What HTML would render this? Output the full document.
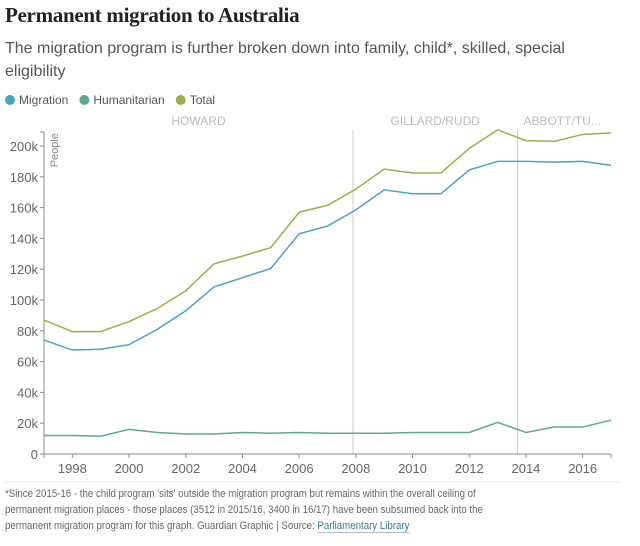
<!DOCTYPE html>
<html><head><meta charset="utf-8"><style>
body{margin:0;background:#fff;width:640px;height:546px;overflow:hidden;font-family:"Liberation Sans",sans-serif}
h1{position:absolute;left:5px;top:3px;margin:0;font:bold 21px "Liberation Serif",serif;color:#222;letter-spacing:-0.3px}
.sub{position:absolute;left:5px;top:37px;width:640px;font-size:16px;line-height:23px;color:#555;white-space:nowrap}
.foot{position:absolute;left:5px;top:486px;width:700px;font-size:11px;line-height:16px;color:#666;white-space:nowrap;transform:scaleX(0.88);transform-origin:0 0}
.foot a{color:#3a7a95;text-decoration:none;border-bottom:1px solid #bbb}
</style></head><body>
<h1>Permanent migration to Australia</h1>
<div class="sub">The migration program is further broken down into family, child*, skilled, special<br>eligibility</div>
<svg id="c" width="640" height="546" style="position:absolute;left:0;top:0"></svg>
<div class="foot">*Since 2015-16 - the child program 'sits' outside the migration program but remains within the overall ceiling of<br>permanent migration places - those places (3512 in 2015/16, 3400 in 16/17) have been subsumed back into the<br>permanent migration program for this graph. Guardian Graphic | Source: <a>Parliamentary Library</a></div>
<script>
const years=[1997,1998,1999,2000,2001,2002,2003,2004,2005,2006,2007,2008,2009,2010,2011,2012,2013,2014,2015,2016,2017];
const migration=[74,67.5,68,71,81,93,108.5,114.5,120.5,143,148,158.5,171.5,169,169,184.5,190,190,189.5,190,187.5];
const humanitarian=[12,12,11.5,16,14,13,13,14,13.5,14,13.5,13.5,13.5,14,14,14,20.5,14,17.5,17.5,22];
const total=[87,79.5,79.5,86,94.5,106,123.5,128.5,134,157,161.5,172,185,182.5,182.5,198.5,210.5,203.5,203,207.5,208.5];
const yTicks=[0,20,40,60,80,100,120,140,160,180,200];
const xTicks=[1998,2000,2002,2004,2006,2008,2010,2012,2014,2016];
const periods=[{name:"HOWARD",start:1997,end:2007.9},{name:"GILLARD/RUDD",start:2007.9,end:2013.7},{name:"ABBOTT/TU...",start:2013.7,end:2017}];
const X=v=>44+(v-1997)*(611-44)/20;
const Y=v=>454-v*(454-146)/200;
const svg=document.getElementById('c');const NS='http://www.w3.org/2000/svg';
function mk(t,a,p){const e=document.createElementNS(NS,t);for(const k in a)e.setAttribute(k,a[k]);(p||svg).appendChild(e);return e;}
const leg=[["Migration","#4aa3c1"],["Humanitarian","#5fa896"],["Total","#a3ad47"]];
let lx=10;
leg.forEach(([n,c])=>{const g=mk('g',{});


mk('circle',{cx:lx,cy:100,r:5,fill:c},g);
const t=mk('text',{x:lx+9,y:104,'font-size':12,fill:'#555'},g);t.textContent=n;
lx+=t.getComputedTextLength()+25;});
periods.forEach((p,i)=>{
if(i>0){const l=mk('line',{x1:X(p.start),x2:X(p.start),y1:130,y2:454,stroke:'#ccc'});

}
const t=mk('text',{x:i==2?X(p.start)+6:(X(p.start)+X(p.end))/2,y:125,'font-size':12,fill:'#bbb','text-anchor':i==2?'start':'middle'});


t.textContent=p.name;});
const ya=mk('line',{x1:44,x2:44,y1:132,y2:454,stroke:'#888'});


const xa=mk('line',{x1:44,x2:611,y1:454,y2:454,stroke:'#888'});


mk('line',{x1:40,x2:44,y1:132,y2:132,stroke:'#888'});
yTicks.forEach(v=>{mk('line',{x1:40,x2:44,y1:Y(v),y2:Y(v),stroke:'#888'});
const t=mk('text',{x:38,y:Y(v)+5,'font-size':13,fill:'#666','text-anchor':'end'});


t.textContent=v==0?'0':v+'k';});
xTicks.concat([1997,2017]).forEach(v=>mk('line',{x1:X(v),x2:X(v),y1:454,y2:458,stroke:'#888'}));
xTicks.forEach(v=>{const t=mk('text',{x:X(v),y:473,'font-size':13,fill:'#666','text-anchor':'middle'});


t.textContent=v;});
const yt=mk('text',{transform:'translate(58,133) rotate(-90)','font-size':11,fill:'#888','text-anchor':'end'});


yt.textContent='People';
[[migration,"#4aa3c1","migration-line"],[humanitarian,"#5fa896","humanitarian-line"],[total,"#a3ad47","total-line"]].forEach(([d,c,n])=>{
const p=mk('polyline',{points:d.map((v,i)=>X(years[i])+','+Y(v)).join(' '),fill:'none',stroke:c,'stroke-width':1.5});

});
const sep=mk('line',{x1:5,x2:620,y1:482,y2:482,stroke:'#e5e5e5'});


</script>
</body></html>
